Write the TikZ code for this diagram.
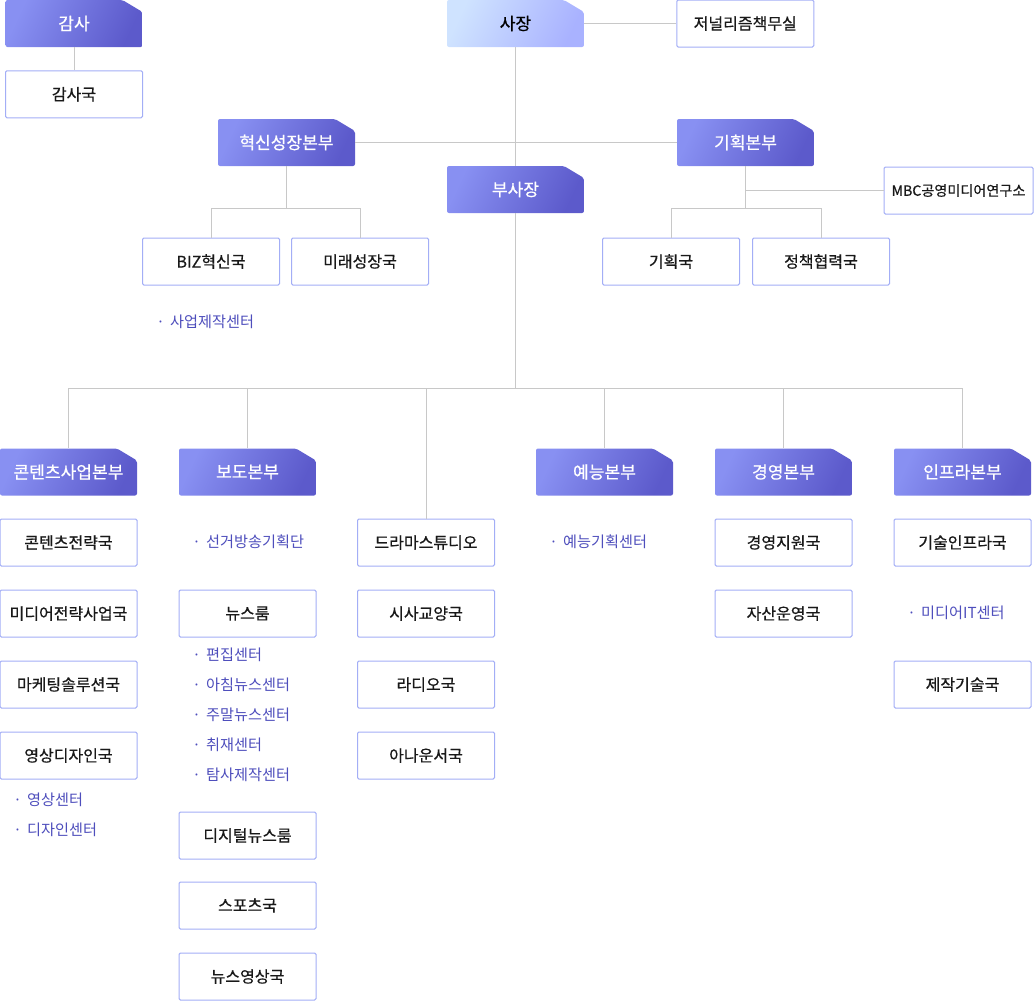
\documentclass[tikz,border=0pt]{standalone}
\usepackage{fontspec}
\setmainfont{Noto Sans CJK KR}
\newfontfamily\medfont{Noto Sans CJK KR}[FakeBold=0.6]
\usepackage{xcolor}
\usepackage{tikz}
\usetikzlibrary{positioning}

\definecolor{hdA}{HTML}{8890F2}
\definecolor{hdB}{HTML}{5C5ACB}
\definecolor{ceoA}{HTML}{CFE3FF}
\definecolor{ceoB}{HTML}{A9B2FF}
\definecolor{bxline}{HTML}{A3AEF6}
\definecolor{linkgray}{HTML}{C8C8C8}
\definecolor{bultxt}{HTML}{4E4EBC}

\begin{document}
\begin{tikzpicture}[x=0.75pt, y=-0.75pt,
    hdbase/.style 2 args={fill=white, minimum width=102.75pt, minimum height=35.25pt, inner sep=0pt,
      font=\medfont\fontsize{12.8}{14}\selectfont,
      path picture={\shade[top color=#1, bottom color=#2, shading angle=65, rounded corners=1.5pt]
        (path picture bounding box.south west) -- (path picture bounding box.north west)
        -- ([xshift=-15pt]path picture bounding box.north east)
        -- ([yshift=-9pt]path picture bounding box.north east)
        -- (path picture bounding box.south east) -- cycle;}},
    hd/.style={hdbase={hdA}{hdB}, text=white},
    ceohd/.style={hdbase={ceoA}{ceoB}, text=black},
    bx/.style={draw=bxline, line width=0.75pt, fill=white, rounded corners=1pt, minimum width=102.75pt,
      minimum height=35.25pt, inner sep=0pt, font=\medfont\fontsize{12}{13}\selectfont, text=black!90},
    bul/.style={anchor=west, inner sep=0pt, text=bultxt, font=\fontsize{11.4}{12}\selectfont},
    link/.style={draw=linkgray, line width=0.75pt}
  ]
    \useasboundingbox (0,0) rectangle (1034,1001);

    % top
    \node[ceohd] (ceo) at (515.5,23.5) {사장};
    \node[bx, right=69pt of ceo] (jour) {저널리즘책무실};
    \node[hd] (audit) at (74,23.5) {감사};
    \node[bx, below=17.25pt of audit] (auditguk) {감사국};
    \node[hd] (innov) at (286.5,142.5) {혁신성장본부};
    \node[hd] (plan) at (745.5,142.5) {기획본부};
    \node[hd] (vp) at (515.5,189.5) {부사장};
    \node[bx] (biz) at (211,261.5) {BIZ혁신국};
    \node[bx, right=8.25pt of biz] (future) {미래성장국};
    \node[bul] (bizc) at (156,322) {·\hspace{4pt}사업제작센터};
    \node[bx] (planguk) at (671,261.5) {기획국};
    \node[bx, right=9pt of planguk] (policy) {정책협력국};
    \node[bx, minimum width=111.75pt, font=\medfont\fontsize{10.6}{12}\selectfont] (mbc) at (958.5,190.5) {MBC공영미디어연구소};

    % divisions
    \node[hd] (cont) at (68.5,472) {콘텐츠사업본부};
    \node[hd] (news) at (247.5,472) {보도본부};
    \node[hd] (ent) at (604.5,472) {예능본부};
    \node[hd] (mgmt) at (783.5,472) {경영본부};
    \node[hd] (infra) at (962.5,472) {인프라본부};

    \node[bx] (c1) at (68.5,542.5) {콘텐츠전략국};
    \node[bx, below=17.25pt of c1] (c2) {미디어전략사업국};
    \node[bx, below=17.25pt of c2] (c3) {마케팅솔루션국};
    \node[bx, below=17.25pt of c3] (c4) {영상디자인국};
    \node[bul] (c4a) at (13,800) {·\hspace{4pt}영상센터};
    \node[bul] (c4b) at (13,830) {·\hspace{4pt}디자인센터};

    \node[bul] (n0) at (192,542) {·\hspace{4pt}선거방송기획단};
    \node[bx] (n1) at (247.5,613.5) {뉴스룸};
    \node[bul] (n1a) at (192,655) {·\hspace{4pt}편집센터};
    \node[bul] (n1b) at (192,685) {·\hspace{4pt}아침뉴스센터};
    \node[bul] (n1c) at (192,715) {·\hspace{4pt}주말뉴스센터};
    \node[bul] (n1d) at (192,745) {·\hspace{4pt}취재센터};
    \node[bul] (n1e) at (192,775) {·\hspace{4pt}탐사제작센터};
    \node[bx] (n2) at (247.5,835.5) {디지털뉴스룸};
    \node[bx] (n3) at (247.5,905.5) {스포츠국};
    \node[bx] (n4) at (247.5,976.5) {뉴스영상국};

    \node[bx] (drama) at (426,542.5) {드라마스튜디오};
    \node[bx, below=17.25pt of drama] (d2) {시사교양국};
    \node[bx, below=17.25pt of d2] (d3) {라디오국};
    \node[bx, below=17.25pt of d3] (d4) {아나운서국};

    \node[bul] (e1) at (549,542) {·\hspace{4pt}예능기획센터};

    \node[bx] (m1) at (783.5,542.5) {경영지원국};
    \node[bx, below=17.25pt of m1] (m2) {자산운영국};

    \node[bx] (i1) at (962.5,542.5) {기술인프라국};
    \node[bul] (i1a) at (907,613) {·\hspace{4pt}미디어IT센터};
    \node[bx] (i2) at (962.5,684.5) {제작기술국};

    % lines
    \draw[link] (audit) -- (auditguk);
    \draw[link] (ceo) -- (jour);
    \draw[link] (ceo) -- (vp);
    \draw[link] (innov) -- (plan);
    \coordinate (innovbus) at (286.5,208);
    \draw[link] (innov) -- (innovbus) -| (biz);
    \draw[link] (innovbus) -| (future);
    \draw[link] (plan) |- (mbc);
    \coordinate (planbus) at (745.5,208.5);
    \draw[link] (plan) -- (planbus) -| (planguk);
    \draw[link] (planbus) -| (policy);
    \coordinate (bus) at (515.5,388);
    \draw[link] (vp) -- (bus);
    \foreach \d in {cont,news,drama,ent,mgmt,infra}
      \draw[link] (bus) -| (\d);
  \end{tikzpicture}
\end{document}
